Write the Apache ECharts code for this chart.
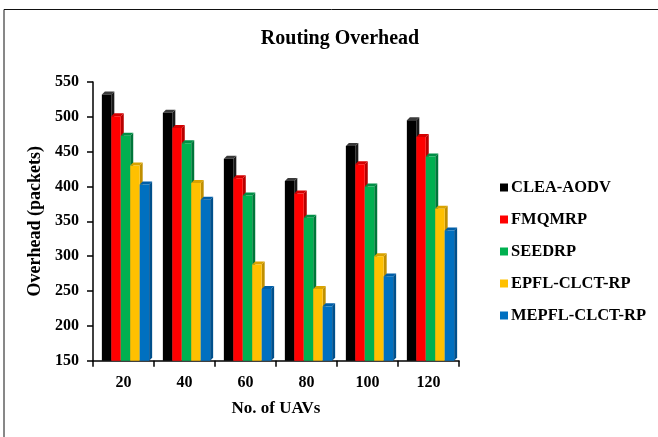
<!DOCTYPE html>
<html><head><meta charset="utf-8">
<script src="https://cdn.jsdelivr.net/npm/echarts@6/dist/echarts.min.js"></script>
<style>html,body{margin:0;padding:0;background:#fff}#c{width:658px;height:437px}</style>
</head><body><div id="c"></div>
<script>
var categories = ['20', '40', '60', '80', '100', '120'];
var seriesNames = ['CLEA-AODV', 'FMQMRP', 'SEEDRP', 'EPFL-CLCT-RP', 'MEPFL-CLCT-RP'];
var cleaAodv = [532, 506, 440, 408, 458, 495];
var fmqmrp = [501, 484, 412, 390, 432, 471];
var seedrp = [473, 462, 387, 355, 400, 443];
var epflClct = [430, 405, 288, 253, 300, 368];
var mepflClct = [403, 381, 253, 228, 271, 337];
var yTicks = [150, 200, 250, 300, 350, 400, 450, 500, 550];

var allValues = [cleaAodv, fmqmrp, seedrp, epflClct, mepflClct];
var frontColors = ['#000000', '#ff0000', '#00b050', '#ffc000', '#0070c0'];
var sideColors = ['#1a1a1a', '#b80000', '#00763a', '#c08f00', '#00508c'];
var topColors = ['#3a3a3a', '#d40000', '#008f46', '#d9a300', '#005ea8'];
var FONT = '"Liberation Serif", "Times New Roman", serif';
var yMin = yTicks[0], yMax = yTicks[yTicks.length - 1];

function makeRender(idx) {
  return function (params, api) {
    var c = api.value(0), v = api.value(1);
    var pTop = api.coord([c, v]);
    var pBot = api.coord([c, yMin]);
    var band = api.size([1, 0])[0];
    var w = band * 0.155;
    var d = 3;
    var x0 = pTop[0] - w * 2.5 + idx * w + 2;
    var yT = pTop[1], yB = pBot[1];
    return {
      type: 'group',
      children: [
        { type: 'polygon', shape: { points: [[x0 + w, yT], [x0 + w + d, yT - d], [x0 + w + d, yB - d], [x0 + w, yB]] },
          style: { fill: sideColors[idx] } },
        { type: 'polygon', shape: { points: [[x0, yT], [x0 + d, yT - d], [x0 + w + d, yT - d], [x0 + w, yT]] },
          style: { fill: topColors[idx] } },
        { type: 'rect', shape: { x: x0, y: yT, width: w, height: yB - yT },
          style: { fill: frontColors[idx] } }
      ]
    };
  };
}

var series = seriesNames.map(function (name, i) {
  return {
    type: 'custom',
    name: name,
    renderItem: makeRender(i),
    itemStyle: { color: frontColors[i] },
    encode: { x: 0, y: 1 },
    data: allValues[i].map(function (v, c) { return [c, v]; }),
    z: 2 + i
  };
});

var chart = echarts.init(document.getElementById('c'), null, { renderer: 'canvas' });
chart.setOption({
  animation: false,
  backgroundColor: '#ffffff',
  title: {
    text: 'Routing Overhead',
    left: 335, top: 24,
    textAlign: 'center',
    textStyle: { fontFamily: FONT, fontWeight: 'bold', fontSize: 20, color: '#000' }
  },
  graphic: [{
    type: 'rect', silent: true, z: 0,
    shape: { x: 4, y: 9.5, width: 700, height: 500 },
    style: { fill: 'none', stroke: '#111', lineWidth: 1 }
  }],
  legend: {
    orient: 'vertical',
    left: 495, top: 174,
    icon: 'rect', itemWidth: 8, itemHeight: 8, itemGap: 15,
    textStyle: { fontFamily: FONT, fontWeight: 'bold', fontSize: 16.5, color: '#000', lineHeight: 16, padding: [0, 0, 0, -2] },
    data: seriesNames
  },
  grid: { left: 93, top: 82, width: 366, height: 278.7, containLabel: false },
  xAxis: {
    type: 'category', data: categories, boundaryGap: true,
    name: 'No. of UAVs', nameLocation: 'middle', nameGap: 39,
    nameTextStyle: { fontFamily: FONT, fontWeight: 'bold', fontSize: 17, color: '#000' },
    axisLine: { lineStyle: { color: '#000', width: 1.5 } },
    axisTick: { show: true, length: 6, alignWithLabel: false, lineStyle: { color: '#000', width: 1.5 } },
    axisLabel: { margin: 14, fontFamily: FONT, fontWeight: 'bold', fontSize: 16, color: '#000' },
    splitLine: { show: false }
  },
  yAxis: {
    type: 'value', min: yMin, max: yMax, interval: 50,
    name: 'Overhead (packets)', nameLocation: 'middle', nameGap: 36, nameRotate: 90,
    nameTextStyle: { fontFamily: FONT, fontWeight: 'bold', fontSize: 18, color: '#000' },
    axisLine: { show: true, lineStyle: { color: '#000', width: 1.5 } },
    axisTick: { show: true, length: 6, lineStyle: { color: '#000', width: 1.5 } },
    axisLabel: { margin: 14, fontFamily: FONT, fontWeight: 'bold', fontSize: 16, color: '#000' },
    splitLine: { show: false }
  },
  series: series
});
</script></body></html>
